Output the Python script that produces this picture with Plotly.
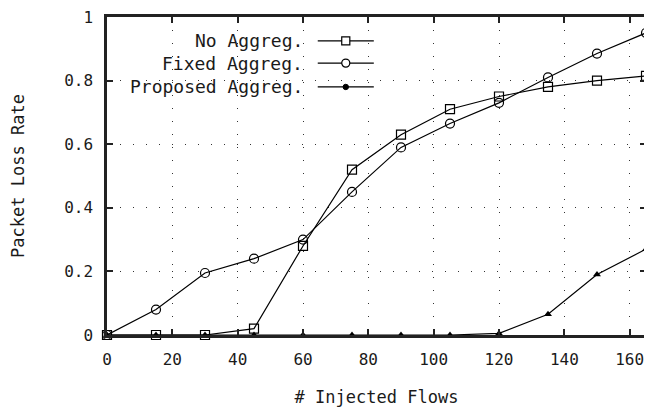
import plotly.graph_objects as go

flows = [0, 15, 30, 45, 60, 75, 90, 105, 120, 135, 150, 165]
no_aggreg = [0, 0, 0, 0.02, 0.28, 0.52, 0.63, 0.71, 0.75, 0.78, 0.80, 0.815]
fixed_aggreg = [0, 0.08, 0.195, 0.24, 0.30, 0.45, 0.59, 0.665, 0.73, 0.81, 0.885, 0.95]
proposed_aggreg = [0, 0, 0, 0, 0, 0, 0, 0, 0.005, 0.065, 0.19, 0.27]

names = ["No Aggreg.", "Fixed Aggreg.", "Proposed Aggreg."]
FONT = "DejaVu Sans Mono"
TXT = "#1a1a1a"

fig = go.Figure()
specs = [
    (no_aggreg, dict(symbol="square-open", size=9, color="black", line=dict(width=1.2))),
    (fixed_aggreg, dict(symbol="circle-open", size=9, color="black", line=dict(width=1.2))),
    (proposed_aggreg, dict(symbol="triangle-up", size=7, color="black")),
]
for (ys, mk), nm in zip(specs, names):
    fig.add_trace(go.Scatter(x=flows, y=ys, mode="lines+markers", name=nm,
                             line=dict(color="black", width=1.2), marker=mk,
                             cliponaxis=False, showlegend=False))

# custom legend (text left of sample, like gnuplot)
leg_y = [0.925, 0.855, 0.78]
for nm, yy, (ys, mk) in zip(names, leg_y, specs):
    fig.add_annotation(xref="paper", yref="paper", x=0.367, y=yy, text=nm,
                       showarrow=False, xanchor="right", yanchor="middle",
                       font=dict(family=FONT, size=18, color=TXT))
    fig.add_shape(type="line", xref="paper", yref="paper", x0=0.391, x1=0.495,
                  y0=yy, y1=yy, line=dict(color="black", width=1.2))
    cx = 0.443
    dx = 0.0075
    dy = dx * 539 / 318
    if mk["symbol"] == "square-open":
        fig.add_shape(type="rect", xref="paper", yref="paper", x0=cx - dx, x1=cx + dx,
                      y0=yy - dy, y1=yy + dy, line=dict(color="black", width=1.2),
                      fillcolor="white")
    elif mk["symbol"] == "circle-open":
        fig.add_shape(type="circle", xref="paper", yref="paper", x0=cx - dx, x1=cx + dx,
                      y0=yy - dy, y1=yy + dy, line=dict(color="black", width=1.2),
                      fillcolor="white")
    else:
        fig.add_shape(type="circle", xref="paper", yref="paper", x0=cx - 0.005, x1=cx + 0.005,
                      y0=yy - 0.0085, y1=yy + 0.0085, line=dict(color="black", width=1),
                      fillcolor="black")

axis_common = dict(
    showline=True, linecolor="#222", linewidth=2.5, mirror="ticks",
    ticks="inside", ticklen=6, tickwidth=2, tickcolor="#222",
    showgrid=True, gridcolor="#333", gridwidth=1, griddash="1px,12px",
    zeroline=False, automargin=False, ticklabeloverflow="allow",
    tickfont=dict(family=FONT, size=16, color=TXT),
)
fig.update_xaxes(range=[0, 165], tickvals=[0, 20, 40, 60, 80, 100, 120, 140, 160],
                 ticklabelstandoff=8,
                 title=dict(text="# Injected Flows", font=dict(family=FONT, size=17, color=TXT),
                            standoff=24), **axis_common)
fig.update_yaxes(range=[0, 1], tickvals=[0, 0.2, 0.4, 0.6, 0.8, 1],
                 ticktext=["0", "0.2", "0.4", "0.6", "0.8", "1"],
                 ticklabelstandoff=8,
                 title=dict(text="Packet Loss Rate", font=dict(family=FONT, size=17, color=TXT),
                            standoff=36), **axis_common)

# page body adds an 8px offset, so the figure is sized to land the plot
# frame where the reference has it
fig.update_layout(width=644, height=399, margin=dict(l=99, r=6, t=9, b=72),
                  plot_bgcolor="white", paper_bgcolor="white", showlegend=False)

fig.write_html("out.html")
